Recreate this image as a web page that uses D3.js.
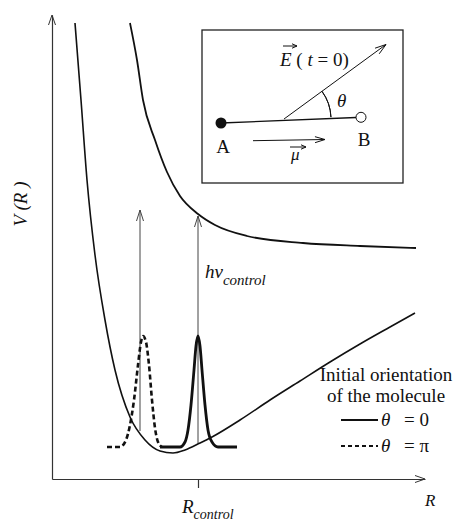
<!DOCTYPE html>
<html>
<head>
<meta charset="utf-8">
<script src="https://cdn.jsdelivr.net/npm/d3@7"></script>
<style>
  body { margin: 0; background: #fff; }
  svg text { font-family: "Liberation Serif", "Times New Roman", serif; fill: #111; }
</style>
</head>
<body>
<div id="chart"></div>
<script>
// ground state potential V0(R)
const groundCurve = [
    [0.46, 9.12], [0.58, 7.58], [0.70, 5.98], [0.86, 4.48], [1.06, 3.18],
    [1.26, 2.18], [1.56, 1.24], [1.86, 0.78], [2.16, 0.56], [2.42, 0.52],
    [2.66, 0.58], [2.96, 0.72], [3.20, 0.84], [3.76, 1.18], [4.36, 1.58],
    [4.96, 1.96], [5.56, 2.34], [6.16, 2.70], [6.76, 3.04], [7.26, 3.32]
];
// excited (repulsive) potential
const excitedCurve = [
    [1.56, 9.12], [1.70, 8.38], [1.82, 7.58], [2.06, 6.78], [2.30, 6.14],
    [2.56, 5.66], [2.92, 5.30], [3.26, 5.08], [3.90, 4.86], [5.02, 4.72],
    [6.16, 4.66], [7.28, 4.62]
];
// wave packets, theta = pi (dashed) and theta = 0 (solid)
const packetPi = [
    [1.10, 0.64], [1.36, 0.64], [1.48, 0.78], [1.56, 1.08], [1.64, 1.58],
    [1.72, 2.28], [1.78, 2.74], [1.82, 2.86], [1.88, 2.74], [1.94, 2.28],
    [2.00, 1.58], [2.06, 1.02], [2.12, 0.74], [2.20, 0.64]
];
const packetZero = [
    [2.16, 0.64], [2.56, 0.64], [2.66, 0.74], [2.72, 0.98], [2.78, 1.48],
    [2.84, 2.18], [2.88, 2.66], [2.92, 2.86], [2.96, 2.66], [3.00, 2.18],
    [3.06, 1.48], [3.12, 0.98], [3.20, 0.74], [3.32, 0.64], [3.70, 0.64]
];
// vertical excitation arrows: R, start V, end V
const pumpArrows = [
    { R: 1.76, from: 0.96, to: 5.38 },
    { R: 2.92, from: 0.72, to: 5.26 }
];
const rControl = 2.92;
const legendLines = ["Initial orientation", "of the molecule"];
const legendItems = [
    { value: "= 0", dash: null },
    { value: "= \u03C0", dash: "4,3" }
];

const W = 456, H = 521;
const svg = d3.select("#chart").append("svg")
    .attr("width", W)
    .attr("height", H);

const x = d3.scaleLinear().domain([0, 7.46]).range([52, 425]);
const y = d3.scaleLinear().domain([0, 9.28]).range([479, 15]);

// open "V" arrow head
function arrowHead(g, px, py, angle, len, half, color) {
    const a = angle * Math.PI / 180;
    const bx = px - len * Math.cos(a), by = py - len * Math.sin(a);
    const nx = -Math.sin(a) * half, ny = Math.cos(a) * half;
    g.append("path")
        .attr("d", `M${bx + nx},${by + ny}L${px},${py}L${bx - nx},${by - ny}`)
        .attr("fill", "none")
        .attr("stroke", color)
        .attr("stroke-width", 1);
}

// axes
const xAxis = svg.append("g")
    .attr("transform", "translate(0," + y(0) + ")")
    .call(d3.axisBottom(x).tickValues([rControl]).tickSize(9).tickSizeOuter(0).tickFormat(""));
const yAxis = svg.append("g")
    .attr("transform", "translate(" + x(0) + ",0)")
    .call(d3.axisLeft(y).tickValues([]).tickSizeOuter(0));
svg.selectAll(".domain, .tick line").attr("stroke", "#333").attr("stroke-width", 1.2);
arrowHead(svg, x(7.46), y(0), 0, 10, 3.5, "#333");
arrowHead(svg, x(0), y(9.28), -90, 10, 3.5, "#333");

svg.append("text")
    .attr("x", x(rControl) - 16).attr("y", 513)
    .attr("font-size", 19).attr("font-style", "italic")
    .text("R")
    .append("tspan").attr("dy", 6).attr("font-size", 14).text("control");
svg.append("text")
    .attr("x", 425).attr("y", 506)
    .attr("font-size", 17).attr("font-style", "italic")
    .text("R");
svg.append("text")
    .attr("transform", "translate(27,204) rotate(-90)")
    .attr("text-anchor", "middle")
    .attr("font-size", 19).attr("font-style", "italic")
    .text("V (R )");

const line = d3.line()
    .x(d => x(d[0]))
    .y(d => y(d[1]))
    .curve(d3.curveMonotoneX);

// excitation arrows
pumpArrows.forEach(a => {
    svg.append("line")
        .attr("x1", x(a.R)).attr("x2", x(a.R))
        .attr("y1", y(a.from)).attr("y2", y(a.to))
        .attr("stroke", "#444").attr("stroke-width", 1);
    arrowHead(svg, x(a.R), y(a.to), -90, 11, 3.5, "#444");
});

svg.append("text")
    .attr("x", 205).attr("y", 278)
    .attr("font-size", 19).attr("font-style", "italic")
    .text("h\u03BD")
    .append("tspan").attr("dy", 7).attr("font-size", 15).text("control");

// potentials
svg.append("path").datum(groundCurve)
    .attr("d", line).attr("fill", "none")
    .attr("stroke", "#111").attr("stroke-width", 1.6);
svg.append("path").datum(excitedCurve)
    .attr("d", line).attr("fill", "none")
    .attr("stroke", "#111").attr("stroke-width", 1.8);

// wave packets
svg.append("path").datum(packetPi)
    .attr("d", line).attr("fill", "none")
    .attr("stroke", "#111").attr("stroke-width", 2.6)
    .attr("stroke-dasharray", "5,3");
svg.append("path").datum(packetZero)
    .attr("d", line).attr("fill", "none")
    .attr("stroke", "#111").attr("stroke-width", 2.8);

// legend
legendLines.forEach((t, i) => {
    svg.append("text")
        .attr("x", 386).attr("y", 381 + i * 21)
        .attr("text-anchor", "middle")
        .attr("font-size", 19)
        .text(t);
});
legendItems.forEach((it, i) => {
    const ly = 420 + i * 26;
    svg.append("line")
        .attr("x1", 341).attr("x2", 378)
        .attr("y1", ly).attr("y2", ly)
        .attr("stroke", "#111").attr("stroke-width", 2)
        .attr("stroke-dasharray", it.dash);
    svg.append("text")
        .attr("x", 381).attr("y", ly + 6)
        .attr("font-size", 19).attr("font-style", "italic")
        .text("\u03B8");
    svg.append("text")
        .attr("x", 404).attr("y", ly + 6)
        .attr("font-size", 19)
        .text(it.value);
});

// inset: molecule and field
const inset = svg.append("g");
inset.append("rect")
    .attr("x", 202).attr("y", 30)
    .attr("width", 201).attr("height", 153)
    .attr("fill", "none").attr("stroke", "#222").attr("stroke-width", 1.3);
inset.append("line")
    .attr("x1", 221).attr("y1", 123).attr("x2", 356).attr("y2", 117.5)
    .attr("stroke", "#111").attr("stroke-width", 1.3);
inset.append("circle").attr("cx", 221).attr("cy", 123).attr("r", 5.5).attr("fill", "#111");
inset.append("circle").attr("cx", 361).attr("cy", 117.3).attr("r", 5)
    .attr("fill", "#fff").attr("stroke", "#111").attr("stroke-width", 1);
// field vector
inset.append("line")
    .attr("x1", 284).attr("y1", 119).attr("x2", 386).attr("y2", 44.5)
    .attr("stroke", "#111").attr("stroke-width", 1);
arrowHead(inset, 386, 44.5, -36.2, 11, 3.5, "#111");
// angle arc
inset.append("path")
    .attr("d", d3.arc()({ innerRadius: 47, outerRadius: 47, startAngle: Math.PI / 2 - 0.04, endAngle: Math.PI / 2 - 0.63 }))
    .attr("transform", "translate(284,119)")
    .attr("fill", "none").attr("stroke", "#111").attr("stroke-width", 1);
inset.append("text")
    .attr("x", 337).attr("y", 107)
    .attr("font-size", 19).attr("font-style", "italic")
    .text("\u03B8");
// E (t = 0)
inset.append("text")
    .attr("x", 280).attr("y", 66)
    .attr("font-size", 19)
    .attr("xml:space", "preserve")
    .html('<tspan font-style="italic">E</tspan> ( <tspan font-style="italic">t</tspan> = 0)');
inset.append("line")
    .attr("x1", 283).attr("x2", 297).attr("y1", 46).attr("y2", 46)
    .attr("stroke", "#111").attr("stroke-width", 1);
arrowHead(inset, 297, 46, 0, 5, 2.2, "#111");
// labels A, B
inset.append("text").attr("x", 223).attr("y", 153)
    .attr("text-anchor", "middle").attr("font-size", 19).text("A");
inset.append("text").attr("x", 364).attr("y", 146)
    .attr("text-anchor", "middle").attr("font-size", 19).text("B");
// dipole moment
inset.append("line")
    .attr("x1", 253).attr("y1", 140.7).attr("x2", 325).attr("y2", 139.5)
    .attr("stroke", "#111").attr("stroke-width", 1);
arrowHead(inset, 325, 139.5, -1, 10, 3, "#111");
inset.append("text")
    .attr("x", 291).attr("y", 160)
    .attr("font-size", 17).attr("font-style", "italic")
    .text("\u03BC");
inset.append("line")
    .attr("x1", 290).attr("x2", 306).attr("y1", 147).attr("y2", 147)
    .attr("stroke", "#111").attr("stroke-width", 1);
arrowHead(inset, 306, 147, 0, 5, 2.2, "#111");
</script>
</body>
</html>
